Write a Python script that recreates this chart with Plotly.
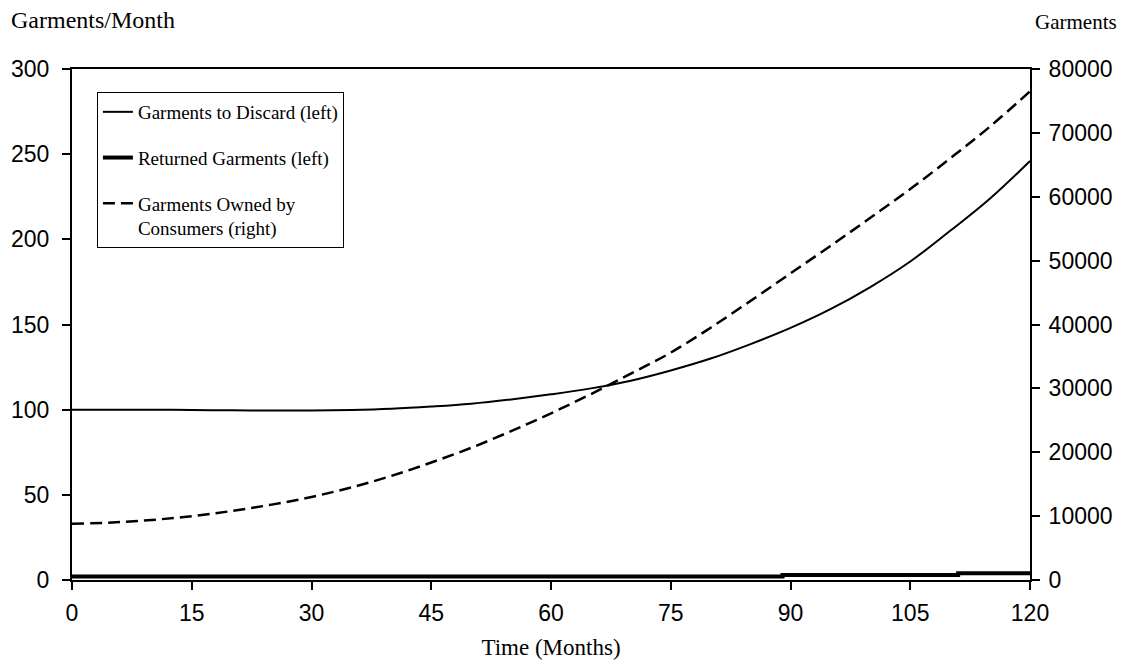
import plotly.graph_objects as go

months = [0, 5, 10, 15, 20, 25, 30, 35, 40, 45, 50, 55, 60, 65, 70, 75, 80, 85, 90, 95, 100, 105, 110, 115, 120]
garments_to_discard = [100, 100, 100, 99.8, 99.6, 99.5, 99.5, 99.8, 100.5, 101.8, 103.5, 106, 109, 112.5, 117, 123,
                       130, 138.5, 148, 159, 172, 187, 205, 224, 246]
garments_owned = [8800, 9000, 9400, 10000, 10800, 11800, 13000, 14500, 16300, 18400, 20700, 23300, 26100, 29100,
                  32300, 35600, 39500, 43700, 48000, 52300, 56700, 61200, 66000, 71000, 76500]
returned_months = [0, 89, 111, 120]
returned_garments = [2, 3, 4, 4]

x_ticks = [0, 15, 30, 45, 60, 75, 90, 105, 120]
left_ticks = [0, 50, 100, 150, 200, 250, 300]
right_ticks = [0, 10000, 20000, 30000, 40000, 50000, 60000, 70000, 80000]

SERIF = "Liberation Serif, Times New Roman, serif"
SANS = "Liberation Sans, Arial, sans-serif"
TICKFONT = dict(family=SANS, size=23, color="black")

fig = go.Figure()
fig.add_trace(go.Scatter(x=months, y=garments_to_discard, mode="lines", name="Garments to Discard (left)",
                         line=dict(color="black", width=2, shape="spline", smoothing=1.1), legendgroup="a"))
fig.add_trace(go.Scatter(x=returned_months, y=returned_garments, mode="lines", name="Returned Garments (left)",
                         line=dict(color="black", width=4, shape="hv"), legendgroup="b"))
fig.add_trace(go.Scatter(x=months, y=garments_owned, mode="lines", name="Garments Owned by<br>Consumers (right)",
                         line=dict(color="black", width=2.5, dash="12px,6px", shape="spline"), yaxis="y2",
                         legendgroup="c"))

fig.update_layout(
    width=1130, height=668,
    margin=dict(l=72, r=100, t=69, b=88, autoexpand=False),
    paper_bgcolor="white", plot_bgcolor="white",
    showlegend=True,
    legend=dict(x=0.026, y=0.955, xanchor="left", yanchor="top",
                bordercolor="black", borderwidth=1, bgcolor="white",
                font=dict(family=SERIF, size=19, color="black"),
                tracegroupgap=18, valign="top", traceorder="grouped"),
    xaxis=dict(range=[0, 120], tickvals=x_ticks, ticks="outside", ticklen=8, tickwidth=1.5, tickcolor="black",
               showline=True, linecolor="black", linewidth=2, mirror=True, showgrid=False, zeroline=False,
               tickfont=TICKFONT, ticklabelstandoff=3,
               title=dict(text="Time (Months)", font=dict(family=SERIF, size=23, color="black"), standoff=14)),
    yaxis=dict(range=[0, 300], tickvals=left_ticks, ticks="outside", ticklen=8, tickwidth=1.5, tickcolor="black",
               showline=True, linecolor="black", linewidth=2, showgrid=False, zeroline=False,
               tickfont=TICKFONT, ticklabelstandoff=8),
    yaxis2=dict(range=[0, 80000], tickvals=right_ticks, tickformat="d", overlaying="y", side="right",
                ticks="outside", ticklen=8, tickwidth=1.5, tickcolor="black",
                showline=True, linecolor="black", linewidth=2, showgrid=False, zeroline=False,
                tickfont=TICKFONT, ticklabelstandoff=4),
    annotations=[
        dict(text="Garments/Month", xref="paper", yref="paper", x=-0.066, y=1.0, xanchor="left", yanchor="middle",
             yshift=49, showarrow=False, font=dict(family=SERIF, size=24, color="black")),
        dict(text="Garments", xref="paper", yref="paper", x=1.0925, y=1.0, xanchor="right", yanchor="middle",
             yshift=47, showarrow=False, font=dict(family=SERIF, size=21, color="black")),
    ],
)

fig.write_html("out.html")
